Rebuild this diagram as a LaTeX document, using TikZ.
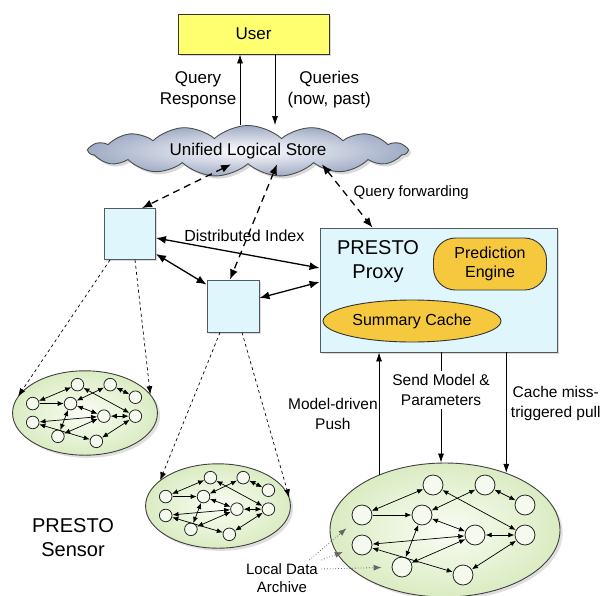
\documentclass[tikz,border=0pt]{standalone}
\usepackage{fontspec}
\setmainfont{Liberation Sans}
\usetikzlibrary{positioning}
\usetikzlibrary{arrows.meta}
\usetikzlibrary{shapes.geometric}
\usetikzlibrary{shapes.symbols}
\usetikzlibrary{shadows}

\definecolor{userfill}{RGB}{255,255,112}
\definecolor{boxfill}{RGB}{222,246,252}
\definecolor{boxline}{RGB}{80,90,95}
\definecolor{enginefill}{RGB}{245,200,62}
\definecolor{fieldinner}{RGB}{250,253,244}
\definecolor{fieldouter}{RGB}{218,236,194}
\definecolor{cloudouter}{RGB}{160,172,198}
\definecolor{motefill}{RGB}{246,250,238}

\begin{document}
\begin{tikzpicture}[x=1pt, y=-1pt, font=\fontsize{16}{19}\selectfont]
        \tikzstyle{box_style} = [rectangle, draw=boxline, line width=0.9pt, fill=boxfill, drop shadow={shadow xshift=1.5pt, shadow yshift=-1.5pt, opacity=0.3}]
        \tikzstyle{user_style} = [box_style, fill=userfill, draw=black!80, minimum width=151pt, minimum height=40pt, font=\fontsize{17}{20}\selectfont]
        \tikzstyle{cloud_style} = [cloud, cloud puffs=15, cloud puff arc=85, aspect=7, minimum width=318pt, minimum height=44pt, draw=black!70, line width=0.9pt, inner color=white, outer color=cloudouter, drop shadow={opacity=0.3}, font=\fontsize{17}{20}\selectfont]
        \tikzstyle{engine_style} = [draw=black!80, line width=0.9pt, fill=enginefill, align=center]
        \tikzstyle{field_style} = [ellipse, draw=black!75, line width=0.9pt, inner color=fieldinner, outer color=fieldouter, minimum width=230pt, minimum height=134pt, inner sep=0pt, drop shadow={opacity=0.25}]
        \tikzstyle{mote_style} = [circle, draw=black!85, line width=0.8pt, fill=motefill, minimum size=20pt, inner sep=0pt]
        \tikzstyle{link_style} = [line width=0.7pt, >={Latex[length=6pt, width=5pt]}, shorten <=0.3pt, shorten >=0.3pt]
        \tikzstyle{thin_arrow} = [->, line width=0.7pt, >={Latex[length=9pt, width=6pt]}]
        \tikzstyle{index_arrow} = [<->, line width=1.3pt, >={Latex[length=10pt, width=8pt]}]
        \tikzstyle{dash_arrow} = [index_arrow, dash pattern=on 7pt off 5pt]
        \tikzstyle{hint_arrow} = [->, line width=0.7pt, dash pattern=on 3pt off 3pt, >={Latex[length=8pt, width=6pt]}]
        \tikzstyle{archive_arrow} = [->, black!60, line width=0.8pt, dotted, >={Latex[length=8pt, width=6pt]}, shorten >=10pt]
        \tikzstyle{label_style} = [align=center, font=\fontsize{15.5}{20}\selectfont]
        \tikzstyle{big_label} = [align=center, font=\fontsize{20}{24}\selectfont]

        \tikzset{
            sensor_net/.pic={
                \node[field_style] (-area) at (0,0) {};
                \foreach \m/\px/\py in {n1/-12/-45, n2/40/-45, n3/80/-25, n4/-83/-15, n5/-23/-15,
                                        n6/30/5, n7/80/5, n8/-83/15, n9/-43/37, n10/18/45}
                    \node[mote_style] (-\m) at (\px,\py) {};
                \foreach \a/\b in {n4/n1, n1/n7, n2/n5, n2/n3, n5/n6, n6/n7,
                                   n5/n9, n6/n8, n6/n9, n8/n10, n7/n10}
                    \draw[link_style, <->] (-\a) -- (-\b);
                \draw[link_style, ->] (-n4) -- (-n5);
            }
        }

        \useasboundingbox (0,0) rectangle (608,595);

        \node[user_style] (user) at (253.5,34) {User};
        \node[cloud_style] (store) at (248,151) {Unified Logical Store};
        \node[box_style, minimum size=51pt] (idx1) at (130,234) {};
        \node[box_style, minimum size=52pt] (idx2) at (233,306) {};
        \node[box_style, minimum width=237pt, minimum height=124pt] (proxy) at (438.5,290) {};
        \node[big_label] (proxy_label) at (378,262) {PRESTO\\Proxy};
        \node[engine_style, rounded corners=22pt, minimum width=113pt, minimum height=52pt] (engine) at (490,264) {Prediction\\Engine};
        \node[engine_style, ellipse, minimum width=165pt, minimum height=42pt] (cache) at (412,321) {Summary Cache};

        \pic[scale=0.63, transform shape] (net1) at (85,413) {sensor_net};
        \pic[scale=0.63, transform shape] (net2) at (218,506) {sensor_net};
        \pic (net3) at (445,530) {sensor_net};

        \node[big_label] (sensor_label) at (73,538) {PRESTO\\Sensor};
        \node[label_style, font=\fontsize{15}{18}\selectfont] (archive) at (282,578) {Local Data\\Archive};

        % user and store
        \draw[thin_arrow] ([xshift=-13.5pt]user.south |- store.north) -- node[left, label_style, font=\fontsize{17}{21}\selectfont] {Query\\Response} ([xshift=-13.5pt]user.south);
        \draw[thin_arrow] ([xshift=21.5pt]user.south) -- node[right=9pt, label_style, font=\fontsize{17}{21}\selectfont] {Queries\\(now, past)} ([xshift=21.5pt]user.south |- store.north);

        % store to index nodes and proxy
        \draw[dash_arrow] ([xshift=-17pt]store.south) -- ([xshift=12pt]idx1.north);
        \draw[dash_arrow] ([xshift=29pt]store.south) -- ([xshift=-3pt]idx2.north);
        \draw[dash_arrow] ([xshift=74pt]store.south) -- node[pos=0.45, right=5pt, font=\fontsize{15}{18}\selectfont] {Query forwarding} ([xshift=-66pt]proxy.north);

        % distributed index
        \draw[index_arrow] ([yshift=-4pt]idx1.east) -- node[pos=0.54, above=9pt] {Distributed Index} ([yshift=22pt]proxy.west);
        \draw[index_arrow] ([yshift=6pt]idx1.south east) -- ([yshift=-5pt]idx2.north west);
        \draw[index_arrow] ([yshift=8pt]idx2.east) -- ([yshift=8pt]proxy.west);

        % index nodes to sensor fields
        \draw[hint_arrow] ([xshift=-20pt]idx1.south) -- (net1-area.166);
        \draw[hint_arrow] ([xshift=5pt]idx1.south) -- (net1-area.16);
        \draw[hint_arrow] ([xshift=-13pt]idx2.south) -- (net2-area.156);
        \draw[hint_arrow] ([xshift=9pt]idx2.south) -- (net2-area.7);

        % proxy and sensor field
        \draw[thin_arrow] (net3-area.140) -- node[left, inner sep=1pt, label_style] {Model-driven\\Push} (net3-area.140 |- proxy.south);
        \node[label_style] (send_label) at (441,390) {Send Model \&\\Parameters};
        \draw[thin_arrow] (proxy.south -| send_label) -- (send_label) -- (send_label |- net3-area.north);
        \draw[thin_arrow] (net3-area.43.5 |- proxy.south) -- node[pos=0.42, right=1pt, label_style] {Cache miss-\\triggered pull} (net3-area.43.5);

        % local archive
        \draw[archive_arrow] ([xshift=-12pt]archive.north east) -- (net3-n4);
        \draw[archive_arrow] (archive.north east) -- (net3-n8);
        \draw[archive_arrow] ([yshift=-9pt]archive.north east) -- (net3-n9);

\end{tikzpicture}
\end{document}
